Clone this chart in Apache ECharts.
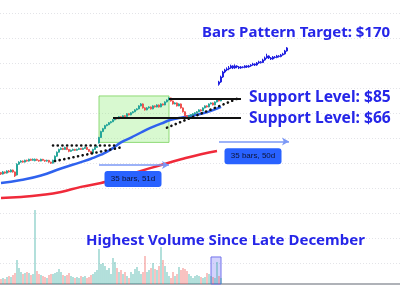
<!DOCTYPE html>
<html>
<head>
<meta charset="utf-8">
<script src="https://cdn.jsdelivr.net/npm/echarts@6/dist/echarts.min.js"></script>
<style>html,body{margin:0;padding:0;background:#fff}#c{width:400px;height:300px}</style>
</head>
<body>
<div id="c"></div>
<script>
// ---- price candles (bar index 0..110): open / close / low / high in $ ----
var priceOpen = [31.0,30.4,31.3,30.8,31.7,31.3,32.1,31.3,30.0,34.8, 35.8,36.3,35.8,36.7,36.3,37.2,36.7,36.5,37.2,36.7, 36.3,37.2,36.7,36.3,36.7,35.8,35.3,36.7,38.8,41.0, 42.6,43.2,42.6,43.8,42.6,41.5,42.1,42.6,42.1,42.6, 43.2,42.6,43.2,43.8,42.6,41.5,40.4,42.6,43.8,46.5, 50.1,54.4,56.6,59.0,59.8,61.4,62.2,63.9,65.7,64.8, 66.6,65.7,67.5,66.8,69.4,68.4,70.3,71.3,73.2,74.2, 77.3,79.4,75.2,73.2,75.2,76.2,74.2,77.3,76.2,78.3, 76.2,79.4,78.3,81.6,83.8,86.2,82.7,79.4,80.5,77.3, 79.4,75.2,71.3,67.5,66.6,67.5,68.4,69.4,70.3,71.3, 73.2,72.2,75.2,77.3,76.2,79.4,80.5,78.3,81.6,83.8, 82.7];
var priceClose = [30.4,31.3,30.8,31.7,31.3,32.1,31.3,29.6,34.8,35.8, 36.3,35.8,36.7,36.3,37.2,36.7,37.2,37.2,36.7,36.3, 37.2,36.7,36.3,36.7,35.8,35.3,36.7,38.8,41.0,42.6, 43.2,42.6,43.8,42.6,41.5,42.1,42.6,42.1,42.6,43.2, 42.6,43.2,43.8,42.6,41.5,40.4,42.6,43.8,44.4,50.1, 54.4,56.6,59.0,59.8,61.4,62.2,63.9,65.7,64.8,66.6, 65.7,67.5,66.8,69.4,68.4,70.3,71.3,73.2,74.2,77.3, 79.4,75.2,73.2,75.2,76.2,74.2,77.3,76.2,78.3,76.2, 79.4,78.3,81.6,83.8,86.2,82.7,79.4,80.5,77.3,79.4, 75.2,71.3,67.5,66.6,67.5,68.4,69.4,70.3,71.3,73.2, 72.2,75.2,77.3,76.2,79.4,80.5,78.3,81.6,83.8,82.7, 85.0];
var priceLow = [30.0,30.2,30.5,30.6,31.0,31.1,31.0,29.2,29.8,34.5, 35.5,35.5,35.6,36.0,36.1,36.4,36.5,36.2,36.4,36.0, 36.2,36.4,35.9,36.0,35.5,34.9,35.1,36.5,38.5,40.8, 42.2,42.2,42.4,42.2,41.0,41.2,41.8,41.7,41.9,42.3, 42.3,42.4,43.0,42.3,41.1,40.0,40.2,42.4,43.5,46.2, 49.8,54.0,56.2,58.5,59.4,60.8,61.9,63.5,64.2,64.5, 65.2,65.4,66.2,66.5,67.9,68.0,69.9,70.9,72.7,73.8, 76.8,74.5,72.5,72.8,74.6,73.6,73.8,75.6,75.8,75.6, 75.9,77.7,78.0,81.2,83.4,82.0,78.8,79.0,76.7,77.0, 74.5,70.7,66.9,65.9,66.2,67.1,68.0,69.0,69.9,70.9, 71.6,71.9,74.8,75.6,75.9,79.0,77.8,78.0,81.2,82.2, 82.4];
var priceHigh = [31.3,31.7,31.5,32.0,32.1,32.4,32.3,31.5,35.2,36.2, 36.7,36.6,37.0,37.0,37.5,37.5,37.6,37.6,37.5,36.9, 37.5,37.4,36.9,37.0,36.9,36.0,37.0,39.2,41.4,43.0, 43.8,43.5,44.2,44.0,42.8,42.5,43.0,42.9,43.0,43.6, 43.4,43.6,44.2,44.0,42.8,41.7,43.0,44.2,44.9,50.6, 55.0,57.2,59.6,60.4,62.0,62.8,64.5,66.3,66.2,67.2, 67.0,68.0,68.0,70.0,69.9,70.9,72.0,73.9,74.9,78.0, 80.3,80.0,75.8,75.9,76.9,76.7,78.0,77.9,79.0,78.8, 80.1,79.9,82.3,84.5,87.0,86.6,83.2,81.2,81.0,80.0, 79.9,75.7,71.8,68.1,68.1,69.0,70.0,70.9,71.9,73.8, 73.8,75.8,77.9,77.9,80.0,81.1,81.0,82.2,84.4,84.3, 85.6];
// volume, millions of shares
var volume = [1.25,1.5,1.25,1.75,2.0,1.75,2.25,2.75,6.0,4.0, 3.0,2.5,2.75,3.0,2.75,2.25,2.5,18.5,3.25,2.5, 2.25,2.0,1.75,1.5,2.25,2.5,2.5,2.75,3.0,3.75, 3.0,2.25,2.0,2.25,2.75,2.0,1.75,1.5,1.75,1.5, 2.0,1.75,2.0,1.5,1.75,2.25,2.5,3.0,3.5,8.75, 5.0,5.25,4.5,3.5,4.0,2.5,6.5,5.5,4.0,3.0, 3.5,2.5,3.0,2.0,1.5,3.0,2.5,3.75,4.25,3.25, 2.5,3.0,7.0,3.0,3.5,4.0,5.25,3.75,3.5,4.5, 9.25,6.0,4.5,3.0,2.0,1.5,3.0,2.0,2.5,4.25, 3.5,4.0,3.75,3.25,2.5,2.0,1.5,2.0,2.25,2.0, 1.75,1.5,1.75,2.75,2.5,2.0,1.75,1.5,5.5,2.0, 1.5];
// projected "bars pattern" (35 bars starting at bar 109)
var projStart = 109;
var projOpen = [104.0,107.3,114.9,123.0,126.5,128.2,130.0,133.6,130.0,133.6, 131.8,130.0,131.8,131.0,133.6,131.8,133.6,135.4,137.3,135.4, 139.2,141.2,140.0,145.0,149.1,153.2,149.1,147.0,151.0,150.0, 153.2,152.0,155.3,157.5,164.1];
var projClose = [107.3,114.9,123.0,126.5,128.2,130.0,133.6,130.0,133.6,131.8, 130.0,131.8,131.0,133.6,131.8,133.6,135.4,137.3,135.4,139.2, 141.2,140.0,145.0,149.1,153.2,149.1,147.0,151.0,150.0,153.2, 152.0,155.3,157.5,164.1,171.0];
var projLow = [102.0,106.0,113.5,121.0,124.5,126.0,128.5,128.0,128.5,129.5, 128.0,128.5,129.5,129.5,130.0,130.5,132.0,134.0,133.5,134.0, 137.5,138.0,139.0,143.5,147.5,147.0,145.0,145.5,148.0,148.5, 150.0,150.5,154.0,156.0,162.5];
var projHigh = [109.0,117.0,125.0,128.5,131.0,133.5,136.0,135.0,136.5,135.0, 133.5,133.5,133.0,135.0,135.0,135.5,137.0,139.5,138.5,141.0, 143.5,143.0,147.5,152.0,158.0,154.5,151.0,153.0,153.0,155.5, 155.0,157.5,160.0,166.5,173.0];
// moving averages [bar index, $]
var ma50 = [[0,26.9],[10,28.0],[20,29.8],[30,32.8],[40,35.8],[45,37.5],[50,39.6],[55,42.6],[60,46.9],[65,50.1],[70,53.7],[75,57.4],[80,60.6],[85,63.9],[90,65.7],[95,67.5],[100,69.4],[105,72.2],[110,76.2]];
var ma200 = [[0,21.9],[10,22.2],[20,22.8],[30,23.8],[40,25.5],[50,26.9],[60,28.8],[70,31.7],[80,34.4],[90,37.2],[100,39.9],[108,41.7]];
// annotation levels / texts
var supportHigh = 85, supportLow = 66;
var annoTexts = ['Bars Pattern Target: $170','Support Level: $85','Support Level: $66','Highest Volume Since Late December'];
var rangeLabels = ['35 bars, 51d','35 bars, 50d'];

var nCat = 200;
var categories = [];
for (var i = 0; i < nCat; i++) categories.push('b' + i);

var candles = priceClose.map(function (c, i) { return [priceOpen[i], c, priceLow[i], priceHigh[i]]; });
var proj = [];
for (var k = 0; k < projStart; k++) proj.push(['-','-','-','-']);
projClose.forEach(function (c, i) { proj.push([projOpen[i], c, projLow[i], projHigh[i]]); });

var UP = '#26a69a', DN = '#ef5350';
var blueText = '#2626e8';
var font = '"Noto Sans", "DejaVu Sans", sans-serif';

var dotStyle = {color:'#111', width:2.6, type:[0.1,4.6], cap:'round'};
var solid = {color:'#111', width:2, type:'solid'};
var arrowStyle = {color:'#7b98f6', width:1.5, type:'solid'};

var chart = echarts.init(document.getElementById('c'), null, {renderer:'canvas'});
chart.setOption({
  animation:false,
  backgroundColor:'#ffffff',
  grid:[
    {left:0, top:0, width:400, height:300},
    {left:0, width:400, bottom:16, height:120},
    {left:0, width:400, top:13, height:250}
  ],
  xAxis:[
    {type:'category', gridIndex:0, data:categories, boundaryGap:true, show:false},
    {type:'category', gridIndex:1, data:categories, boundaryGap:true, axisLine:{show:true, lineStyle:{color:'#9598a1', width:1.5}}, axisTick:{show:false}, axisLabel:{show:false}, splitLine:{show:false}},
    {type:'value', gridIndex:2, min:0, max:1, show:false}
  ],
  yAxis:[
    {type:'log', gridIndex:0, min:5.414, max:329.8, show:false},
    {type:'value', gridIndex:1, min:0, max:30, show:false},
    {type:'value', gridIndex:2, min:0, max:250, interval:25, inverse:true, axisLine:{show:false}, axisTick:{show:false}, axisLabel:{show:false}, splitLine:{show:true, lineStyle:{color:'#e3e4e8', width:1, type:[1,2]}}}
  ],
  series:[
    {
      type:'candlestick', name:'price', xAxisIndex:0, yAxisIndex:0, data:candles, barWidth:1.6,
      itemStyle:{color:UP, color0:DN, borderColor:UP, borderColor0:DN, borderWidth:1},
      markArea:{silent:true, itemStyle:{color:'rgba(144,238,120,0.35)', borderColor:'rgba(120,210,90,0.8)', borderWidth:1},
        data:[
          [{coord:[49, 88.6]},{coord:[84, 46.9]}],
          [{coord:[105, 9.76], itemStyle:{color:'rgba(110,110,245,0.3)', borderColor:'#7272ec', borderWidth:1}},{coord:[110, 6.74]}]
        ]},
      markLine:{silent:true, symbol:['none','none'], label:{show:false}, lineStyle:solid,
        data:[
          [{coord:[84, supportHigh], lineStyle:solid},{coord:[120, supportHigh], lineStyle:solid}],
          [{coord:[56, supportLow], lineStyle:solid},{coord:[120, supportLow], lineStyle:solid}]
        ]},
      z:3
    },
    {
      type:'candlestick', name:'projection', xAxisIndex:0, yAxisIndex:0, data:proj, barWidth:1.8,
      itemStyle:{color:'#2020e0', color0:'#2020e0', borderColor:'#2020e0', borderColor0:'#2020e0', borderWidth:1},
      markLine:{silent:true, symbol:['none','arrow'], symbolSize:[6,7], label:{show:false}, lineStyle:arrowStyle,
        data:[
          [{coord:[49, 34.4]},{coord:[84, 34.4]}],
          [{coord:[109, 47.5]},{coord:[144, 47.5]}]
        ]},
      markPoint:{silent:true, symbol:'circle', symbolSize:0,
        label:{show:true, position:'inside', formatter:'{b}', color:'#0d1333', fontSize:8, fontFamily:'"Liberation Sans", Arial, sans-serif',
          backgroundColor:'#2962ff', borderRadius:3, padding:[4,6,4,6], width:45, align:'center'},
        data:[
          {name:rangeLabels[0], coord:[66, 28.4]},
          {name:rangeLabels[1], coord:[126, 38.8]}
        ]},
      z:4
    },
    {
      type:'line', name:'MA50', xAxisIndex:0, yAxisIndex:0, data:ma50, smooth:true, showSymbol:false,
      lineStyle:{color:'#2f62ee', width:2.5},
      markLine:{silent:true, symbol:['none','none'], label:{show:false}, lineStyle:dotStyle,
        data:[
          [{coord:[26, 45.0]},{coord:[58, 45.0]}],
          [{coord:[27, 36.3]},{coord:[60, 43.8]}],
          [{coord:[83, 57.4]},{coord:[119, 86.2]}]
        ]},
      z:2
    },
    {
      type:'line', name:'MA200', xAxisIndex:0, yAxisIndex:0, data:ma200, smooth:true, showSymbol:false,
      lineStyle:{color:'#f02a3a', width:2.5}, z:2
    },
    {
      type:'bar', name:'volume', xAxisIndex:1, yAxisIndex:1, data:volume, barWidth:1.4,
      itemStyle:{color:function (p) { return priceClose[p.dataIndex] >= priceOpen[p.dataIndex] ? 'rgba(38,166,154,0.5)' : 'rgba(239,83,80,0.5)'; }},
      z:1
    }
  ],
  graphic:[
    {type:'text', x:202, y:33, style:{text:annoTexts[0], fill:blueText, font:'bold 15px ' + font, verticalAlign:'middle', textVerticalAlign:'middle'}, z:10},
    {type:'text', x:249, y:97.5, style:{text:annoTexts[1], fill:blueText, font:'bold 15.6px ' + font, verticalAlign:'middle', textVerticalAlign:'middle'}, z:10},
    {type:'text', x:249, y:118.5, style:{text:annoTexts[2], fill:blueText, font:'bold 15.6px ' + font, verticalAlign:'middle', textVerticalAlign:'middle'}, z:10},
    {type:'text', x:86, y:241, style:{text:annoTexts[3], fill:blueText, font:'bold 15px ' + font, verticalAlign:'middle', textVerticalAlign:'middle'}, z:10}
  ]
});
</script>
</body>
</html>
